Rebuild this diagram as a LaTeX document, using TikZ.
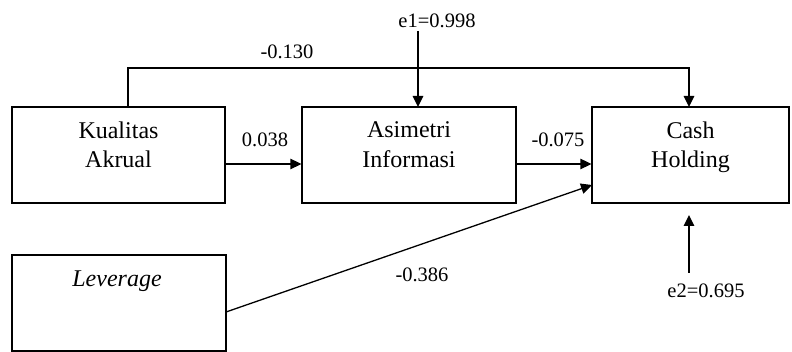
\documentclass[tikz,border=0pt]{standalone}
\usepackage{fontspec}
\setmainfont{Liberation Serif}
\usetikzlibrary{arrows.meta}
\begin{document}
\begin{tikzpicture}[x=1pt,y=-1pt,
  box/.style={draw,line width=1.3pt,minimum width=#1,minimum height=96pt,inner sep=0pt},
  boxtext/.style={anchor=north,align=center,inner sep=0pt,font=\fontsize{24}{29.5}\selectfont},
  lab/.style={anchor=base,inner sep=0pt,font=\fontsize{20.5}{24}\selectfont},
  link/.style={line width=1.3pt,-{Triangle[length=11pt,width=10.5pt]}}]
\useasboundingbox (0,0) rectangle (792,352);
\node[box=213pt] (ka) at (118.5,155) {};
\node[box=214pt] (ai) at (409,155) {};
\node[box=197pt] (ch) at (690.5,155) {};
\node[box=214pt] (lv) at (119,303) {};
\node[boxtext] (tka) at (118.5,121.5) {Kualitas\\Akrual};
\node[boxtext] (tai) at (409,121.5) {Asimetri\\Informasi};
\node[boxtext] (tch) at (690.5,121.5) {Cash\\Holding};
\node[boxtext] (tlv) at (117,271) {\itshape Leverage};
% labels
\node[lab] (l1) at (265,147) {0.038};
\node[lab] (l2) at (558,147) {-0.075};
\node[lab] (l3) at (287,59) {-0.130};
\node[lab] (e1) at (437,28) {e1=0.998};
\node[lab] (l4) at (422,282) {-0.386};
\node[lab] (e2) at (706,298) {e2=0.695};
% coordinates
\coordinate (kaout) at (ka.east |- 0,164);
\coordinate (aiin) at (ai.west |- 0,164);
\coordinate (aiout) at (ai.east |- 0,164);
\coordinate (chin) at (ch.west |- 0,164);
\coordinate (kaup) at (128,107);
\coordinate (cn1) at (128,68);
\coordinate (cn2) at (689,68);
\coordinate (chtop) at (689,107);
\coordinate (e1s) at (418,31);
\coordinate (aitop) at (418,107);
\coordinate (lvout) at (226,312);
\coordinate (chin2) at (592,185);
\coordinate (e2s) at (689,273);
\coordinate (chbot) at (689,203);
% connectors
\draw[link] (kaout) -- (aiin);
\draw[link] (aiout) -- (chin);
\draw[link] (kaup) -- (cn1) -- (cn2) -- (chtop);
\draw[link] (e1s) -- (aitop);
\draw[link] (lvout) -- (chin2);
\draw[link,shorten >=12pt] (e2s) -- (chbot);
\end{tikzpicture}
\end{document}
